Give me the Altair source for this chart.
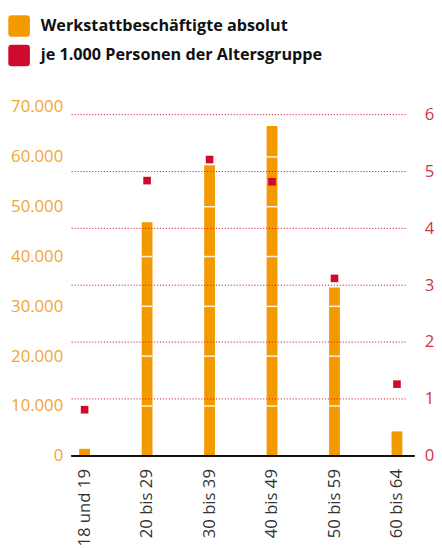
import altair as alt
import pandas as pd

categories = ["18 und 19", "20 bis 29", "30 bis 39", "40 bis 49", "50 bis 59", "60 bis 64"]
absolut = [1400, 46900, 58300, 66200, 33800, 4900]
per_1000 = [0.81, 4.84, 5.21, 4.82, 3.12, 1.26]
series_names = ["Werkstattbeschäftigte absolut", "je 1.000 Personen der Altersgruppe"]
series_colors = ["#F39A00", "#CF0A2C"]
left_ticks = [0, 10000, 20000, 30000, 40000, 50000, 60000, 70000]
right_ticks = [0, 1, 2, 3, 4, 5, 6]
grid_lines = [1, 2, 3, 4, 5, 6]

FONT = "Open Sans"

bars_df = pd.DataFrame({"cat": categories, "value": absolut, "series": series_names[0]})
pts_df = pd.DataFrame({"cat": categories, "value": per_1000, "series": series_names[1]})
seg_df = pd.DataFrame(
    [{"cat": c, "value": k} for c, v in zip(categories, absolut) for k in left_ticks[1:] if k < v]
)
grid_df = pd.DataFrame({"g": grid_lines})

ROUNDED = ("M -0.7 -1 L 0.7 -1 Q 1 -1 1 -0.7 L 1 0.7 Q 1 1 0.7 1 L -0.7 1 "
           "Q -1 1 -1 0.7 L -1 -0.7 Q -1 -1 -0.7 -1 Z")

x_scale = alt.Scale(type="point", range=[13.3, 331.3], padding=0)
x_axis = alt.Axis(title=None, labelAngle=-90, labelFontSize=17, labelColor="#333333",
                  labelPadding=13, ticks=False, domain=False, labelFont=FONT, grid=False)
x_enc = alt.X("cat:N", sort=categories, scale=x_scale, axis=x_axis)

color = alt.Color(
    "series:N",
    scale=alt.Scale(domain=series_names, range=series_colors),
    legend=alt.Legend(
        title=None, orient="none", legendX=-64.4, legendY=-93.5, direction="vertical",
        symbolType=ROUNDED, symbolSize=484, symbolStrokeWidth=0, symbolOpacity=1,
        labelFont=FONT, labelFontSize=16.5, labelFontWeight="bold", labelColor="#111111",
        labelOffset=11, rowPadding=8, labelLimit=400, padding=0,
    ),
)

left_scale = alt.Scale(domain=[0, 70000], nice=False, zero=True)
right_scale = alt.Scale(domain=[0, 6.133], nice=False, zero=True)
left_axis = alt.Axis(orient="left", title=None, values=left_ticks,
                     labelExpr="replace(format(datum.value, ','), regexp(',', 'g'), '.')",
                     labelColor="#F2A531", labelFontSize=17, labelFont=FONT,
                     labelPadding=9, ticks=False, domain=False, grid=False)
right_axis = alt.Axis(orient="right", title=None, values=right_ticks,
                      labelColor="#D2344C", labelFontSize=17, labelFont=FONT,
                      labelPadding=10, ticks=False, domain=False, grid=False)

bars = alt.Chart(bars_df).mark_bar(size=11).encode(
    x=x_enc,
    y=alt.Y("value:Q", scale=left_scale, axis=left_axis),
    color=color,
)
segs = alt.Chart(seg_df).mark_tick(color="white", size=11, thickness=1.5, opacity=0.9).encode(
    x=x_enc,
    y=alt.Y("value:Q", scale=left_scale, axis=left_axis),
)
baseline = alt.Chart(bars_df).mark_rule(color="#111111", strokeWidth=1.3).encode(
    x=alt.value(0), x2=alt.value(349),
    y=alt.Y(datum=0, scale=left_scale, axis=left_axis),
)

grid = alt.Chart(grid_df).mark_rule(color="#D0213A", strokeDash=[1.2, 1.8], strokeWidth=1).encode(
    x=alt.value(0), x2=alt.value(341),
    y=alt.Y("g:Q", scale=right_scale, axis=None),
)

points = alt.Chart(pts_df).mark_square(size=60, opacity=1).encode(
    x=x_enc,
    y=alt.Y("value:Q", scale=right_scale, axis=right_axis),
    color=color,
)

chart = alt.layer(alt.layer(bars, segs, baseline), grid, points).resolve_scale(y="independent").properties(
    width=349, height=355,
    autosize=alt.AutoSizeParams(type="none"),
    padding={"left": 64.7, "top": 96, "right": 20, "bottom": 89},
).configure_view(stroke=None)

chart.save("out.html", embed_options={"renderer": "svg", "actions": False})
